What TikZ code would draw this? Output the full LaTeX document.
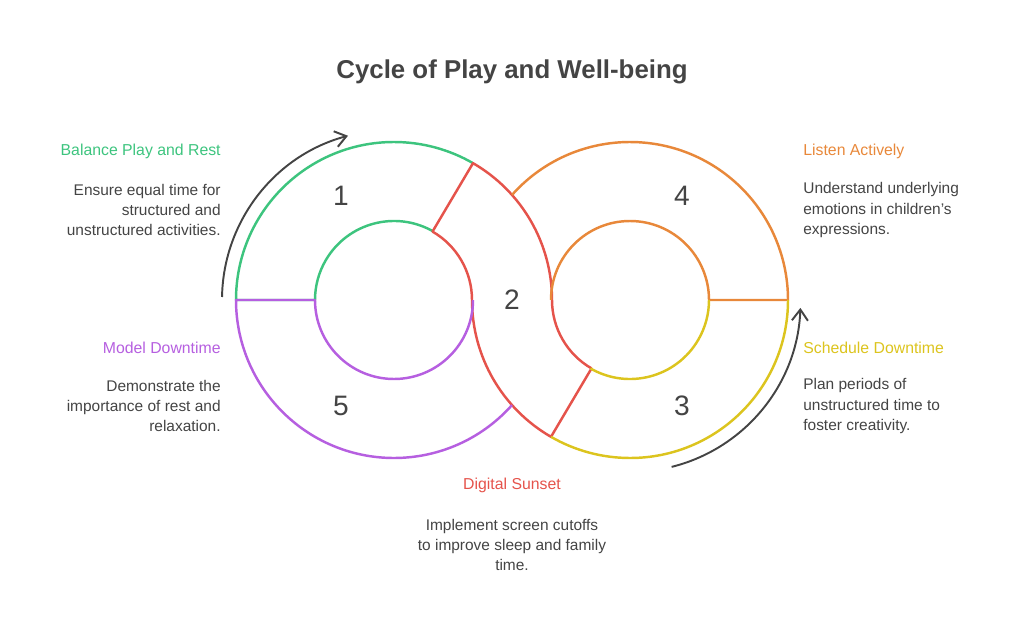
\documentclass[tikz,border=0pt]{standalone}
\usepackage{fontspec}
\setmainfont{Liberation Sans}
\usetikzlibrary{arrows.meta, calc, positioning}
\definecolor{cGreen}{HTML}{3DC47E}
\definecolor{cRed}{HTML}{E5534B}
\definecolor{cOrange}{HTML}{E8883A}
\definecolor{cYellow}{HTML}{DCC41E}
\definecolor{cPurple}{HTML}{B65FE0}
\definecolor{cText}{HTML}{444444}
\tikzset{
    ring/.style={line width=1.4pt, line join=round},
    cycArrow/.style={-{Straight Barb[length=2.2mm, width=3.2mm]}, line width=1.1pt, cText},
    heading/.style={font=\fontsize{9}{11}\selectfont, inner sep=0pt},
    body/.style={font=\fontsize{8.8}{11.4}\selectfont, text=cText, inner sep=0pt},
    num/.style={font=\fontsize{16}{19}\selectfont, text=cText},
}
\begin{document}
\begin{tikzpicture}[x=0.02cm, y=0.02cm]
    \useasboundingbox (0,0) rectangle (1024,630);

    \coordinate (L) at (394,330);
    \coordinate (R) at (630,330);

    % segment 1
    \draw[ring, cGreen] ($(L)+(60:79)$) arc (60:180:79) -- ($(L)+(180:158)$) arc (180:60:158);
    % segment 2
    \draw[ring, cRed] ($(L)+(60:158)$) arc (60:0:158) arc (180:240:79)
        -- ($(R)+(240:158)$) arc (240:180:158) arc (0:60:79) -- cycle;
    % segment 4
    \draw[ring, cOrange] ($(R)+(138.3:158)$) arc (138.3:0:158) -- ($(R)+(0:79)$) arc (0:180:79);
    % segment 3
    \draw[ring, cYellow] ($(R)+(240:79)$) arc (240:360:79);
    \draw[ring, cYellow] ($(R)+(0:158)$) arc (0:-120:158);
    % segment 5
    \draw[ring, cPurple] ($(L)+(-41.7:158)$) arc (-41.7:-180:158) -- ($(L)+(180:79)$) arc (180:360:79);

    % arrows
    \draw[cycArrow] ($(L)+(179:172)$) arc (179:105:170);
    \draw[cycArrow] ($(R)+(-76:172)$) arc (-76:-2:170);

    % numbers
    \node[num] (n1) at (341,434) {1};
    \node[num] (n2) at (512,330) {2};
    \node[num] (n3) at (682,224) {3};
    \node[num] (n4) at (682,434) {4};
    \node[num] (n5) at (341,224) {5};

    \node[font=\fontsize{14.7}{17}\selectfont\bfseries, text=cText] (title) at (512,558) {Cycle of Play and Well-being};

    % left side
    \node[heading, text=cGreen, anchor=east] (h1) at (221,479) {Balance Play and Rest};
    \node[body, align=right, anchor=east] (b1) at (221,420) {Ensure equal time for\\structured and\\unstructured activities.};
    \node[heading, text=cPurple, anchor=east] (h5) at (221,282) {Model Downtime};
    \node[body, align=right, anchor=east] (b5) at (221,224) {Demonstrate the\\importance of rest and\\relaxation.};

    % right side
    \node[heading, text=cOrange, anchor=west] (h4) at (803,479) {Listen Actively};
    \node[body, align=left, anchor=west] (b4) at (803,420) {Understand underlying\\emotions in children's\\expressions.};
    \node[heading, text=cYellow, anchor=west] (h3) at (803,282) {Schedule Downtime};
    \node[body, align=left, anchor=west] (b3) at (803,224) {Plan periods of\\unstructured time to\\foster creativity.};

    % bottom
    \node[heading, text=cRed] (h2) at (512,145) {Digital Sunset};
    \node[body, align=center] (b2) at (512,85) {Implement screen cutoffs\\to improve sleep and family\\time.};
\end{tikzpicture}
\end{document}
